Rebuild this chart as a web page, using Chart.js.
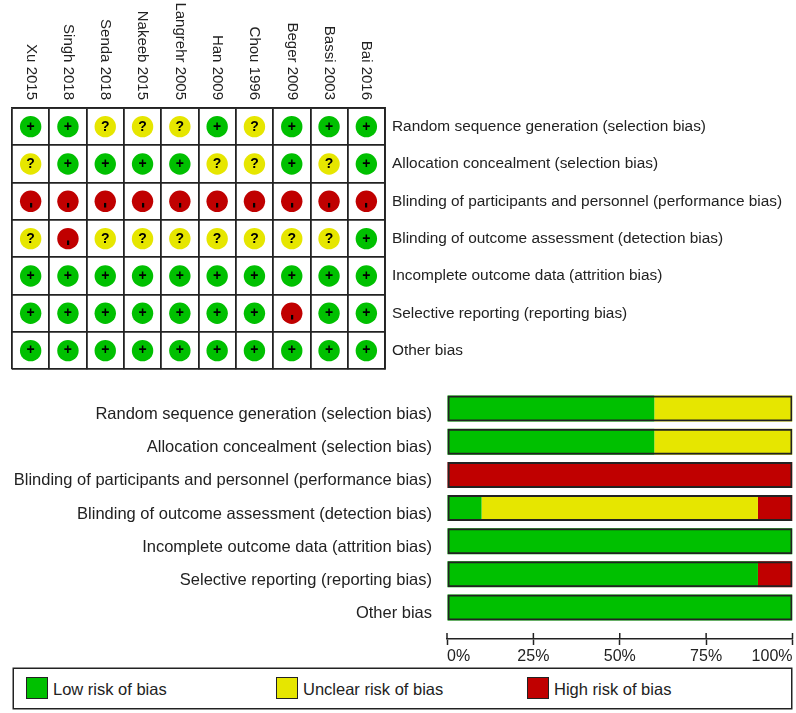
<!DOCTYPE html>
<html>
<head>
<meta charset="utf-8">
<script src="https://cdn.jsdelivr.net/npm/chart.js@4"></script>
<style>
    html, body { margin: 0; padding: 0; background: #fff; }
    body { width: 796px; height: 713px; position: relative; overflow: hidden; font-family: "Liberation Sans", Arial, sans-serif; color: #222; }
    canvas { position: absolute; left: 0; }
    #legendBox { position: absolute; left: 13px; top: 668px; width: 777px; height: 39px; border: 1px solid #222; box-shadow: 0 0 0 0.5px #222; }
    .swatch { position: absolute; top: 8px; width: 20px; height: 20px; border: 1.5px solid #222; }
    .legendText { position: absolute; top: 11px; font-size: 16.5px; line-height: 18px; white-space: nowrap; }
</style>
</head>
<body>
<canvas id="gridChart" width="796" height="380" style="top:0"></canvas>
<canvas id="barChart" width="796" height="280" style="top:385px"></canvas>
<div id="legendBox"></div>
<script>
const studies = ['Xu 2015', 'Singh 2018', 'Senda 2018', 'Nakeeb 2015', 'Langrehr 2005', 'Han 2009', 'Chou 1996', 'Beger 2009', 'Bassi 2003', 'Bai 2016'];
const domains = [
    'Random sequence generation (selection bias)',
    'Allocation concealment (selection bias)',
    'Blinding of participants and personnel (performance bias)',
    'Blinding of outcome assessment (detection bias)',
    'Incomplete outcome data (attrition bias)',
    'Selective reporting (reporting bias)',
    'Other bias'
];

// one row per domain, one sign per study
const judgements = [
    ['+', '+', '?', '?', '?', '+', '?', '+', '+', '+'],
    ['?', '+', '+', '+', '+', '?', '?', '+', '?', '+'],
    ['-', '-', '-', '-', '-', '-', '-', '-', '-', '-'],
    ['?', '-', '?', '?', '?', '?', '?', '?', '?', '+'],
    ['+', '+', '+', '+', '+', '+', '+', '+', '+', '+'],
    ['+', '+', '+', '+', '+', '+', '+', '-', '+', '+'],
    ['+', '+', '+', '+', '+', '+', '+', '+', '+', '+']
];

const lowRisk = [60, 60, 0, 10, 100, 90, 100];
const unclearRisk = [40, 40, 0, 80, 0, 0, 0];
const highRisk = [0, 0, 100, 10, 0, 10, 0];
const percentTicks = [0, 25, 50, 75, 100];

const legendNames = ['Low risk of bias', 'Unclear risk of bias', 'High risk of bias'];
const green = '#00c000';
const yellow = '#e6e600';
const red = '#c00000';
const ink = '#222';
const fontName = '"Liberation Sans", Arial, sans-serif';
const legendColors = [green, yellow, red];
const legendLeft = [12, 262, 513];

// legend
const box = document.getElementById('legendBox');
legendNames.forEach((name, i) => {
    const s = document.createElement('div');
    s.className = 'swatch';
    s.style.left = legendLeft[i] + 'px';
    s.style.background = legendColors[i];
    box.appendChild(s);
    const t = document.createElement('div');
    t.className = 'legendText';
    t.style.left = (legendLeft[i] + 27) + 'px';
    t.textContent = name;
    box.appendChild(t);
});

function pointsFor(sign) {
    const pts = [];
    judgements.forEach((row, r) => {
        row.forEach((v, c) => {
            if (v === sign) pts.push({ x: studies[c], y: domains[r] });
        });
    });
    return pts;
}

// the +, ? and - inside each circle
const signPlugin = {
    id: 'signs',
    afterDatasetsDraw(chart) {
        const c = chart.ctx;
        c.save();
        c.fillStyle = '#000';
        c.textAlign = 'center';
        c.textBaseline = 'middle';
        chart.data.datasets.forEach((ds, i) => {
            chart.getDatasetMeta(i).data.forEach(el => {
                c.save();
                if (ds.sign === '-') {
                    // the minus reads as a short upright stroke in the picture
                    c.font = 'bold 18px ' + fontName;
                    c.translate(el.x, el.y + 4);
                    c.rotate(Math.PI / 2);
                    c.fillText(ds.sign, 0, 0);
                } else {
                    c.font = 'bold 14px ' + fontName;
                    c.fillText(ds.sign, el.x, el.y);
                }
                c.restore();
            });
        });
        c.restore();
    }
};

// study names read top to bottom and end just above the grid
const studyLabelPlugin = {
    id: 'studyLabels',
    afterDraw(chart) {
        const c = chart.ctx;
        const xs = chart.scales.x;
        c.save();
        c.fillStyle = ink;
        c.font = '15px ' + fontName;
        c.textAlign = 'right';
        c.textBaseline = 'middle';
        studies.forEach((name, i) => {
            c.save();
            c.translate(xs.getPixelForValue(i), 100);
            c.rotate(Math.PI / 2);
            c.fillText(name, 0, 0);
            c.restore();
        });
        c.restore();
    }
};

new Chart(document.getElementById('gridChart'), {
    type: 'scatter',
    data: {
        datasets: [
            { sign: '+', data: pointsFor('+'), backgroundColor: green },
            { sign: '?', data: pointsFor('?'), backgroundColor: yellow },
            { sign: '-', data: pointsFor('-'), backgroundColor: red }
        ]
    },
    options: {
        responsive: false,
        animation: false,
        layout: { padding: { left: 12, bottom: 2 } },
        elements: { point: { radius: 10.7, borderWidth: 0 } },
        plugins: { legend: { display: false }, tooltip: { enabled: false } },
        scales: {
            x: {
                type: 'category',
                labels: studies,
                position: 'top',
                offset: true,
                afterFit: (s) => { s.height = 108; },
                ticks: { display: false },
                grid: { offset: true, color: ink, lineWidth: 1.8, drawTicks: false },
                border: { color: ink, width: 1.8 }
            },
            y: {
                type: 'category',
                labels: domains,
                position: 'right',
                offset: true,
                afterFit: (s) => { s.width = 411; s.paddingTop = 0; s.paddingBottom = 0; },
                ticks: { color: ink, padding: 7, font: { family: fontName, size: 15.4 } },
                grid: { offset: true, color: ink, lineWidth: 1.8, drawTicks: false },
                border: { color: ink, width: 1.8 }
            }
        }
    },
    plugins: [signPlugin, studyLabelPlugin]
});

// axis ticks cross the axis line, chart.js only draws the lower half
const upperTickPlugin = {
    id: 'upperTicks',
    afterDraw(chart) {
        const c = chart.ctx;
        const xs = chart.scales.x;
        c.save();
        c.strokeStyle = ink;
        c.lineWidth = 1.5;
        xs.ticks.forEach(t => {
            const px = xs.getPixelForValue(t.value);
            c.beginPath();
            c.moveTo(px, xs.top - 6);
            c.lineTo(px, xs.top);
            c.stroke();
        });
        c.restore();
    }
};

const rowData = (values) => values.map((v, i) => ({ x: v, y: i }));

new Chart(document.getElementById('barChart'), {
    type: 'bar',
    data: {
        datasets: [
            { stack: 'outline', data: rowData(domains.map(() => 100)), backgroundColor: 'rgba(0,0,0,0)', borderColor: ink, borderWidth: 2, borderSkipped: false },
            { stack: 'risk', data: rowData(lowRisk), backgroundColor: green },
            { stack: 'risk', data: rowData(unclearRisk), backgroundColor: yellow },
            { stack: 'risk', data: rowData(highRisk), backgroundColor: red }
        ]
    },
    options: {
        indexAxis: 'y',
        responsive: false,
        animation: false,
        layout: { padding: { top: 7, right: 3.5 } },
        grouped: false,
        barPercentage: 0.8,
        categoryPercentage: 1,
        maxBarThickness: 26,
        plugins: { legend: { display: false }, tooltip: { enabled: false } },
        scales: {
            x: {
                stacked: true,
                min: 0,
                max: 100,
                afterFit: (s) => { s.height = 26; },
                afterBuildTicks: (s) => { s.ticks = percentTicks.map(v => ({ value: v })); },
                ticks: {
                    align: 'inner',
                    maxRotation: 0,
                    color: ink,
                    padding: 2,
                    font: { family: fontName, size: 16 },
                    callback: (v) => v + '%'
                },
                grid: { drawOnChartArea: false, tickLength: 6, tickColor: ink, tickWidth: 1.5 },
                border: { color: ink, width: 1.5 }
            },
            y: {
                type: 'linear',
                offset: false,
                reverse: true,
                min: -0.5,
                max: 6.95,
                afterFit: (s) => { s.width = 447; s.paddingTop = 0; s.paddingBottom = 0; },
                afterBuildTicks: (s) => { s.ticks = domains.map((d, i) => ({ value: i })); },
                ticks: {
                    autoSkip: false,
                    color: ink,
                    padding: 15,
                    labelOffset: 6,
                    font: { family: fontName, size: 16.5 },
                    callback: (v) => domains[v] || ''
                },
                grid: { display: false, drawTicks: false, offset: false },
                border: { display: false }
            }
        }
    },
    plugins: [upperTickPlugin]
});
</script>
</body>
</html>
